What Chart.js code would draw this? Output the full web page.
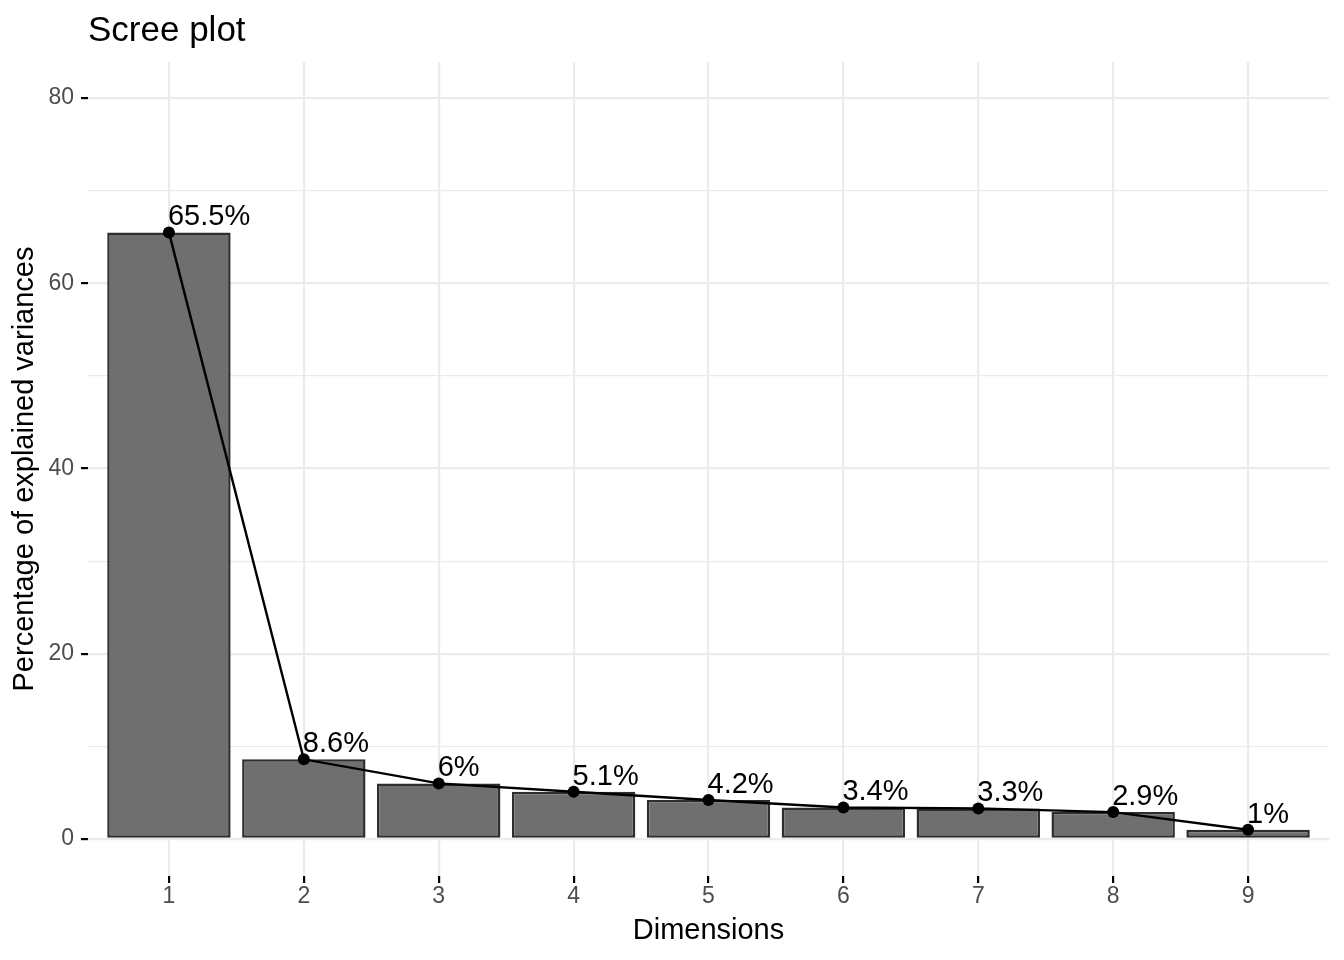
<!DOCTYPE html>
<html>
<head>
<meta charset="utf-8">
<script src="https://cdn.jsdelivr.net/npm/chart.js@4/dist/chart.umd.min.js"></script>
<style>
  body { margin: 0; background: #fff; }
  canvas { display: block; }
</style>
</head>
<body>
<canvas id="scree" width="1344" height="960"></canvas>
<script>
'use strict'

// scree plot data
const dims = [1, 2, 3, 4, 5, 6, 7, 8, 9]
const variances = [65.5, 8.6, 6, 5.1, 4.2, 3.4, 3.3, 2.9, 1]
const yTicks = [0, 10, 20, 30, 40, 50, 60, 70, 80]
const pctLabels = variances.map(v => v + '%')

const FONT = '"Liberation Sans", Arial, Helvetica, sans-serif'
const isMajor = v => v % 20 === 0

const points = dims.map((d, i) => ({ x: d, y: variances[i] }))

// text labels above the points of the line
const pointLabels = {
  id: 'pointLabels',
  afterDatasetsDraw(chart) {
    const meta = chart.getDatasetMeta(1)
    const ctx = chart.ctx
    ctx.save()
    ctx.font = '29px ' + FONT
    ctx.fillStyle = '#000'
    ctx.textAlign = 'left'
    ctx.textBaseline = 'alphabetic'
    meta.data.forEach((pt, i) => {
      ctx.fillText(pctLabels[i], pt.x - 1, pt.y - 7)
    })
    ctx.restore()
  }
}

new Chart(document.getElementById('scree').getContext('2d'), {
  type: 'bar',
  data: {
    datasets: [{
      type: 'bar',
      data: points,
      backgroundColor: '#6f6f6f',
      borderColor: '#2e2e2e',
      borderWidth: 2.5,
      borderSkipped: false,
      categoryPercentage: 1,
      barPercentage: 0.915,
      order: 2
    }, {
      type: 'line',
      data: points,
      borderColor: '#000',
      borderWidth: 2.4,
      pointRadius: 6,
      pointBackgroundColor: '#000',
      pointBorderWidth: 0,
      tension: 0,
      order: 1
    }]
  },
  options: {
    responsive: false,
    animation: false,
    layout: { padding: { top: 0, right: 15, bottom: 0, left: 0 } },
    plugins: {
      legend: { display: false },
      tooltip: { enabled: false },
      title: {
        display: true,
        text: 'Scree plot',
        align: 'start',
        fullSize: false,
        color: '#000',
        font: { family: FONT, size: 35, weight: 'normal' },
        padding: { top: 10, bottom: 10 }
      }
    },
    scales: {
      x: {
        type: 'linear',
        min: 0.4,
        max: 9.6,
        offset: false,
        afterBuildTicks: scale => { scale.ticks = dims.map(v => ({ value: v })) },
        afterFit: scale => { scale.height = 84 },
        border: { display: false },
        grid: {
          color: '#ebebeb',
          lineWidth: 2.2,
          tickLength: 7,
          tickColor: '#000',
          tickWidth: 2.2,
          offset: false
        },
        ticks: {
          color: '#4d4d4d',
          font: { family: FONT, size: 23 },
          padding: 0,
          maxRotation: 0,
          callback: v => v
        },
        title: {
          display: true,
          text: 'Dimensions',
          color: '#000',
          font: { family: FONT, size: 29 },
          padding: { top: 0, bottom: 12 }
        }
      },
      y: {
        min: -4,
        max: 83.9,
        afterBuildTicks: scale => { scale.ticks = yTicks.map(v => ({ value: v })) },
        afterFit: scale => { scale.width = 88 },
        border: { display: false },
        grid: {
          color: '#ebebeb',
          lineWidth: ctx => (ctx.tick && isMajor(ctx.tick.value) ? 2.2 : 1.2),
          tickLength: 7,
          tickWidth: 2.2,
          tickColor: ctx => (ctx.tick && isMajor(ctx.tick.value) ? '#000' : 'rgba(0,0,0,0)')
        },
        ticks: {
          color: '#4d4d4d',
          font: { family: FONT, size: 23 },
          padding: 7,
          callback: v => (isMajor(v) ? v : '')
        },
        title: {
          display: true,
          text: 'Percentage of explained variances',
          color: '#000',
          font: { family: FONT, size: 29 },
          padding: { top: 8, bottom: 0 }
        }
      }
    }
  },
  plugins: [pointLabels]
})
</script>
</body>
</html>
